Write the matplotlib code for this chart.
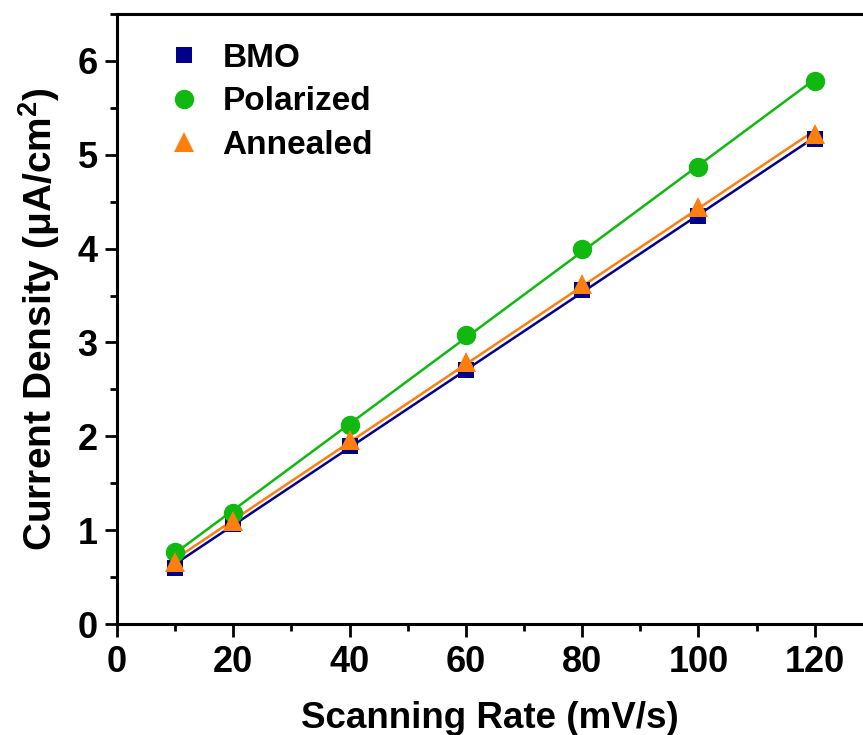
import numpy as np
import matplotlib
matplotlib.use("Agg")
import matplotlib.pyplot as plt
from matplotlib.ticker import MultipleLocator

plt.rcParams['font.family'] = ['Liberation Sans', 'DejaVu Sans']
plt.rcParams['font.weight'] = 'bold'
plt.rcParams['mathtext.fontset'] = 'custom'
plt.rcParams['mathtext.rm'] = 'Liberation Sans:bold'
plt.rcParams['mathtext.bf'] = 'Liberation Sans:bold'
plt.rcParams['mathtext.it'] = 'Liberation Sans:bold'

scan_rate = [10, 20, 40, 60, 80, 100, 120]
bmo = [0.60, 1.07, 1.90, 2.71, 3.56, 4.35, 5.17]
polarized = [0.77, 1.18, 2.12, 3.08, 4.00, 4.87, 5.79]
annealed = [0.66, 1.10, 1.96, 2.79, 3.62, 4.44, 5.22]

series = [
    ("BMO", bmo, "#00008b", "s", 11),
    ("Polarized", polarized, "#10b810", "o", 14),
    ("Annealed", annealed, "#ff7f0e", "^", 14),
]

fig = plt.figure(figsize=(8.63, 7.35), dpi=100)
ax = fig.add_axes([117/863, 1-624/735, 1-117/863, (624-14)/735])

x = np.array(scan_rate, dtype=float)
for name, ys, color, marker, ms in series:
    k, b = np.polyfit(x, np.array(ys), 1)
    xf = np.array([x.min(), x.max()])
    ax.plot(xf, k*xf + b, color=color, lw=1.8, zorder=2)
for name, ys, color, marker, ms in series:
    ax.plot(x, ys, linestyle='none', marker=marker, markersize=ms,
            color=color, markeredgewidth=0, label=name, zorder=3)

ax.set_xlim(0, 128.3)
ax.set_ylim(0, 6.5)
ax.xaxis.set_major_locator(MultipleLocator(20))
ax.xaxis.set_minor_locator(MultipleLocator(10))
ax.yaxis.set_major_locator(MultipleLocator(1))
ax.yaxis.set_minor_locator(MultipleLocator(0.5))

for s in ['left', 'bottom', 'top']:
    ax.spines[s].set_linewidth(2.2)
ax.spines['right'].set_visible(False)
ax.tick_params(axis='both', which='major', direction='out', length=9, width=2,
               labelsize=26, pad=6)
ax.tick_params(axis='y', which='major', pad=5)
ax.tick_params(axis='both', which='minor', direction='out', length=5, width=2)
ax.tick_params(top=False, right=False, which='both')
for lab in ax.get_xticklabels() + ax.get_yticklabels():
    lab.set_fontweight('bold')

ax.set_xlabel("Scanning Rate (mV/s)", fontsize=26.5, fontweight='bold', labelpad=15)
ax.set_ylabel(r"Current Density (μA/cm$^{2}$)", fontsize=28, fontweight='bold', labelpad=11)

leg = ax.legend(loc='upper left', bbox_to_anchor=(0.05, 0.975), frameon=False,
                fontsize=24, handletextpad=0.65, labelspacing=0.38,
                handlelength=1.0, borderaxespad=0)
for t in leg.get_texts():
    t.set_fontweight('bold')

fig.savefig("out.png", dpi=100)
